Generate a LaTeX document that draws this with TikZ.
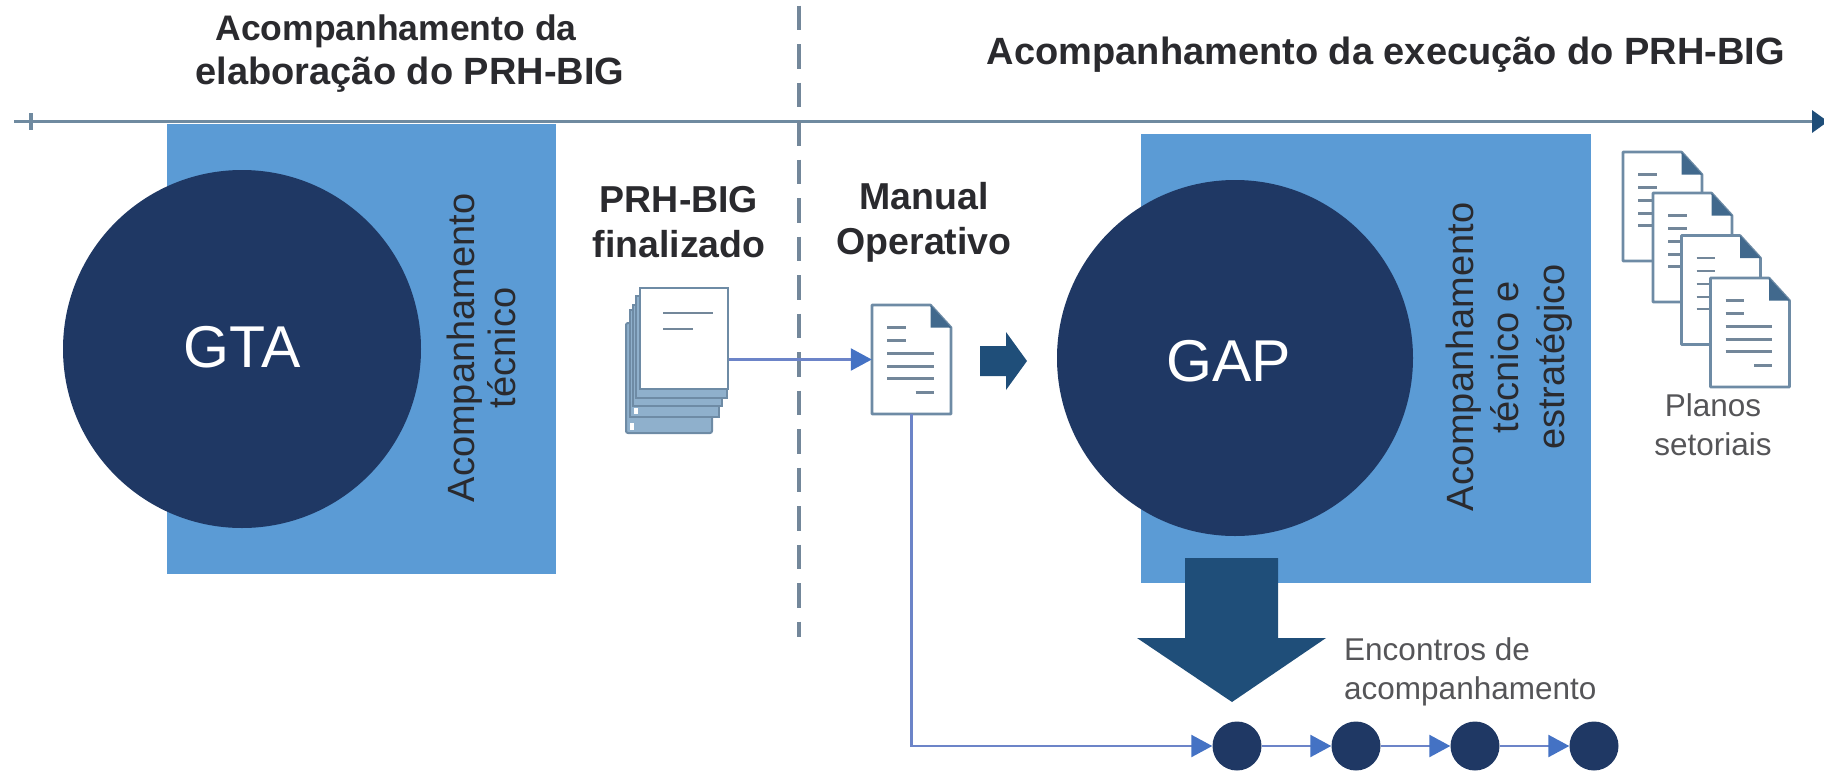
\documentclass[tikz,border=0pt]{standalone}
\usepackage{fontspec}
\setmainfont{Liberation Sans}
\usetikzlibrary{arrows.meta}
\definecolor{panelblue}{HTML}{5B9BD5}
\definecolor{navy}{HTML}{1F3864}
\definecolor{arrowblue}{HTML}{1F4E79}
\definecolor{axisgrey}{HTML}{6F8AA0}
\definecolor{docedge}{HTML}{6E8BA5}
\definecolor{docline}{HTML}{73879A}
\definecolor{linkblue}{HTML}{6C84C8}
\definecolor{tipblue}{HTML}{4472C4}
\definecolor{ink}{HTML}{2A2A2E}
\definecolor{softink}{HTML}{555558}
\definecolor{sheet}{HTML}{8FB0CC}
\tikzset{
  panel/.style={fill=panelblue,draw=none},
  bigdisc/.style={circle,fill=navy,draw=none,inner sep=0pt},
  disclabel/.style={text=white,inner sep=0pt,font=\fontsize{59}{60}\selectfont},
  meet/.style={circle,fill=navy,draw=none,minimum size=49pt,inner sep=0pt},
  sidelabel/.style={rotate=90,text=ink,align=center,font=\fontsize{38}{45.5}\selectfont},
  headlabel/.style={text=ink,align=center,font=\bfseries\fontsize{37.5}{45}\selectfont},
  titlelabel/.style={text=ink,font=\bfseries\fontsize{38}{44}\selectfont},
  smalllabel/.style={text=softink,font=\fontsize{31.5}{39}\selectfont},
  docbox/.style={draw=none,minimum width=79pt,minimum height=109pt,inner sep=0pt},
  link/.style={draw=linkblue,line width=2.4pt,-{Triangle[length=21pt,width=22pt,fill=tipblue,color=tipblue]}},
  bigarrow/.style={fill=arrowblue,draw=none},
  docicon/.pic={
    \path[draw=docedge,line width=2.6pt,fill=white,line join=round] (-39.5,-54.5) -- (19,-54.5) -- (39.5,-32) -- (39.5,54.5) -- (-39.5,54.5) -- cycle;
    \path[fill=arrowblue!85!white] (19,-54.5) -- (39.5,-32) -- (19,-32) -- cycle;
    \foreach \yy/\xa/\xb in {-32/-24.5/-6,-19/-24.5/-6,-6/-24.5/22,7/-24.5/22,19/-24.5/22,33/4/22}
      \draw[docline,line width=2.6pt] (\xa,\yy) -- (\xb,\yy);
  }
}
\begin{document}
\begin{tikzpicture}[x=1pt,y=-1pt]
\useasboundingbox (0,0) rectangle (1824,774);
% panels
\path[panel] (167,124) rectangle (556,574);
\path[panel] (1141,134) rectangle (1591,583);
% timeline
\coordinate (axisstart) at (14,121.5);
\coordinate (axisend) at (1828,121.5);
\coordinate (tickup) at (31,113);
\coordinate (tickdown) at (31,130);
\draw[axisgrey,line width=3.4pt,-{Triangle[length=16pt,width=22pt,fill=arrowblue,color=arrowblue]}] (axisstart) -- (axisend);
\draw[axisgrey,line width=3.4pt] (tickup) -- (tickdown);
% divider
\coordinate (divtop) at (799,5.5);
\coordinate (divbot) at (799,637);
\draw[docline,line width=3.6pt,dash pattern=on 24.5pt off 14pt] (divtop) -- (divbot);
% titles
\node[titlelabel,font=\bfseries\fontsize{35.5}{44}\selectfont] (t1a) at (396,31) {Acompanhamento da};
\node[titlelabel] (t1b) at (410,75) {elaboração do PRH-BIG};
\node[titlelabel] (t2) at (1386,55) {Acompanhamento da execução do PRH-BIG};
% discs
\node[bigdisc,minimum size=358pt] (gta) at (242,349) {};
\node[bigdisc,minimum size=356pt] (gap) at (1235,358) {};
\node[disclabel] (gtalabel) at (242,347) {GTA};
\node[disclabel] (gaplabel) at (1229,361) {GAP};
\node[sidelabel,font=\fontsize{38}{41}\selectfont] (s1) at (481,348) {Acompanhamento\\técnico};
\node[sidelabel] (s2) at (1509,357) {Acompanhamento\\técnico e\\estratégico};
% headings
\node[headlabel] (h1) at (679,222.5) {PRH-BIG\\finalizado};
\node[headlabel] (h2) at (924,222.5) {Manual\\Operativo};
% stack
\path[fill=sheet,draw=docedge,line width=2pt,rounded corners=2pt] (626,323) rectangle (712,433);
\path[fill=white] (630,423) rectangle (634,430);
\path[fill=sheet,draw=docedge,line width=2pt] (630,310) rectangle (719,417);
\path[fill=white] (634,408) rectangle (638,414);
\path[fill=sheet,draw=docedge,line width=2pt] (633,305) rectangle (722,406);
\path[fill=sheet,draw=docedge,line width=2pt] (636,296) rectangle (727,398);
\node[draw=docedge,line width=2.6pt,fill=white,minimum width=88pt,minimum height=101pt,inner sep=0pt] (stack) at (684,338.5) {};
\draw[docline,line width=2.6pt] (663,313) -- (713,313);
\draw[docline,line width=2.6pt] (663,329) -- (693,329);
% manual
\node[docbox] (manual) at (911.5,359.5) {};
\pic at (manual) {docicon};
\draw[link] (stack.east |- manual.west) -- (manual.west);
% small arrow
\path[bigarrow] (980,346) -- (1006,346) -- (1006,332) -- (1027,361) -- (1006,390) -- (1006,376) -- (980,376) -- cycle;
% plans
\node[docbox] (d1) at (1662.5,206.5) {};
\node[docbox] (d2) at (1692.5,247.5) {};
\node[docbox] (d3) at (1721,290) {};
\node[docbox] (d4) at (1750,332.5) {};
\pic at (d1) {docicon};
\pic at (d2) {docicon};
\pic at (d3) {docicon};
\pic at (d4) {docicon};
\node[smalllabel,align=center] (planos) at (1713,425) {Planos\\setoriais};
% big arrow
\path[bigarrow] (1185,558) -- (1278,558) -- (1278,638) -- (1326,638) -- (1232,702) -- (1137,638) -- (1185,638) -- cycle;
\node[smalllabel,align=left,anchor=west,inner sep=0pt] (enc) at (1344,672) {Encontros de\\acompanhamento};
% meetings
\node[meet] (m1) at (1237,746) {};
\node[meet] (m2) at (1356,746) {};
\node[meet] (m3) at (1475,746) {};
\node[meet] (m4) at (1594,746) {};
\draw[link] (manual.south) |- (m1.west);
\draw[link] (m1) -- (m2);
\draw[link] (m2) -- (m3);
\draw[link] (m3) -- (m4);
\end{tikzpicture}
\end{document}
